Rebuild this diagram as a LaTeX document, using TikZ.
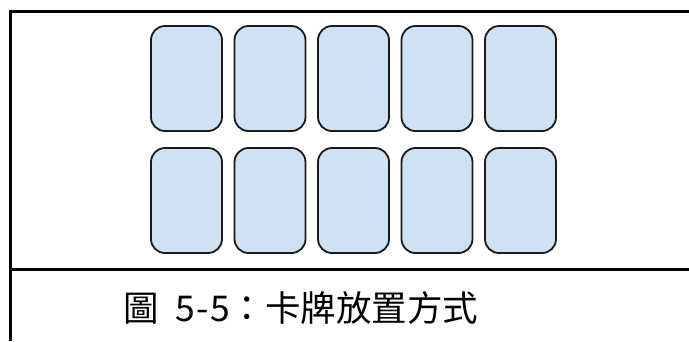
\documentclass[tikz,border=0pt]{standalone}
\usepackage{fontspec}
\newfontfamily\cjk{Noto Sans CJK TC}
\definecolor{cardfill}{HTML}{CFE2F3}
\definecolor{cardline}{HTML}{1A1A1A}
\tikzset{
  card/.style={draw=cardline, line width=1.8pt, fill=cardfill, rounded corners=14pt,
    minimum width=71pt, minimum height=105pt, inner sep=0pt, outer sep=0pt},
  frameline/.style={line width=3pt, black},
  captiontext/.style={font=\cjk\fontsize{35.5pt}{40pt}\selectfont, inner sep=0pt, anchor=west}
}
\begin{document}
\begin{tikzpicture}[x=1pt, y=-1pt]
\useasboundingbox (0,0) rectangle (689,341);
\fill[white] (0,0) rectangle (689,341);
% frame
\draw[frameline] (10.5,9.8) -- (10.5,341);
\draw[frameline] (9,11.3) -- (689,11.3);
\draw[frameline] (9,269) -- (689,269);
% cards
\foreach \n/\x in {1/186.5, 2/270, 3/353.5, 4/437, 5/520.5} {
  \node[card] (top\n) at (\x,78.5) {};
  \node[card] (bot\n) at (\x,200.5) {};
}
% caption
\node[captiontext] (caption) at (123,308) {圖\makebox[0.5em]{}\makebox[0.5em]{5}\makebox[0.5em]{-}\makebox[0.5em]{5}：卡牌放置方式};
\end{tikzpicture}
\end{document}
